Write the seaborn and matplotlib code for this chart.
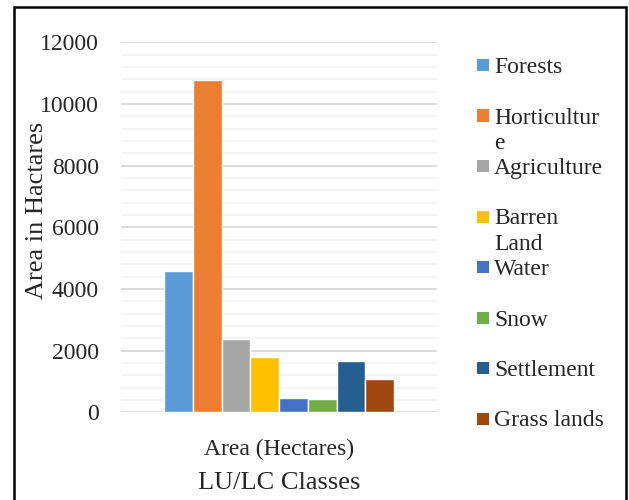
import pandas as pd
import seaborn as sns
import matplotlib.pyplot as plt
import matplotlib.patches as patches
from matplotlib.ticker import MultipleLocator

# -------------------------------------------------
# DATA
# -------------------------------------------------

classes = ["Forests", "Horticulture", "Agriculture", "Barren Land",
           "Water", "Snow", "Settlement", "Grass lands"]
legend_labels = ["Forests", "Horticultur\ne", "Agriculture", "Barren\nLand",
                 "Water", "Snow", "Settlement", "Grass lands"]
areas = [4580, 10780, 2370, 1790, 460, 430, 1660, 1080]
colors = ["#5B9BD5", "#ED7D31", "#A5A5A5", "#FFC000",
          "#4472C4", "#70AD47", "#255E91", "#9E480E"]
category = "Area (Hectares)"

df = pd.DataFrame({"Category": [category] * len(classes),
                   "Class": classes,
                   "Area": areas})

# -------------------------------------------------
# PLOT
# -------------------------------------------------

sns.set_style("white")
plt.rcParams["font.family"] = ["Liberation Serif", "DejaVu Serif"]

fig = plt.figure(figsize=(6.29, 5.0), dpi=100)
ax = fig.add_axes([0.1924, 0.1754, 0.5024, 0.74])

sns.barplot(
    data=df,
    x="Category",
    y="Area",
    hue="Class",
    hue_order=classes,
    palette=colors,
    width=0.728,
    saturation=1,
    legend=False,
    ax=ax,
    zorder=3
)

ax.set_xlim(-0.5, 0.5)
ax.set_ylim(0, 12000)
ax.yaxis.set_major_locator(MultipleLocator(2000))
ax.yaxis.set_minor_locator(MultipleLocator(400))
ax.grid(True, which="minor", axis="y", color="#f0f0f0", linewidth=1.1, zorder=0)
ax.grid(True, which="major", axis="y", color="#d9d9d9", linewidth=1.3, zorder=1)
ax.set_axisbelow(True)

for s in ax.spines.values():
    s.set_visible(False)

ax.tick_params(axis="both", which="both", length=0)
ax.tick_params(axis="y", pad=16, labelsize=17)
ax.tick_params(axis="x", pad=19, labelsize=17)

ax.set_ylabel("Area in Hactares", fontsize=19)
ax.yaxis.set_label_coords(-0.232, 0.546)
ax.set_xlabel("LU/LC Classes", fontsize=19, labelpad=9)

# legend drawn entry by entry (Excel style wrapped labels)
W, H = 629, 500
for i, (lab, col) in enumerate(zip(legend_labels, colors)):
    yc = 65 + 50.5 * i
    fig.patches.append(patches.Rectangle(
        (477 / W, 1 - (yc + 6) / H), 12 / W, 12 / H,
        transform=fig.transFigure, facecolor=col, edgecolor="none"))
    fig.text(494 / W, 1 - (yc - 8) / H, lab, fontsize=17,
             va="top", ha="left", linespacing=1.3)

# outer border
fig.patches.append(patches.Rectangle(
    (14 / W, -0.05), 612 / W, 1.036, transform=fig.transFigure,
    fill=False, edgecolor="black", linewidth=1.8))

plt.savefig("out.png", dpi=100)
